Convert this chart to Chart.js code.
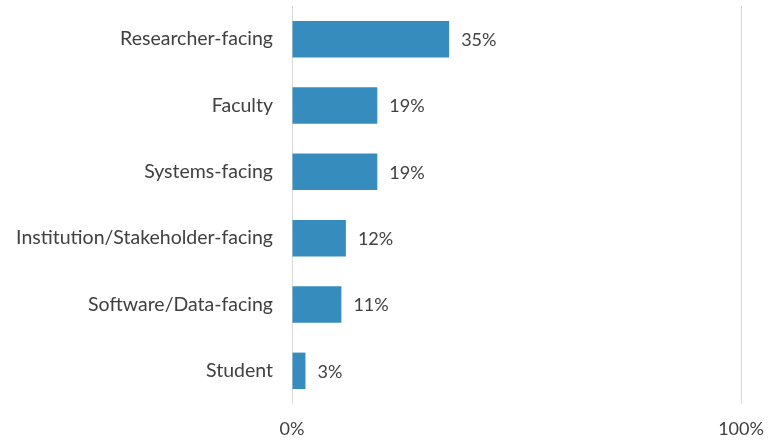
<!DOCTYPE html>
<html>
<head>
<meta charset="utf-8">
<script src="https://cdn.jsdelivr.net/npm/chart.js@4/dist/chart.umd.min.js"></script>
<style>
  html, body { margin: 0; padding: 0; background: #fff; }
  #wrap { width: 769px; height: 441px; }
</style>
</head>
<body>
<div id="wrap"><canvas id="myChart" width="769" height="441"></canvas></div>
<script>
const categories = ['Researcher-facing', 'Faculty', 'Systems-facing', 'Institution/Stakeholder-facing', 'Software/Data-facing', 'Student'];
const shares = [35, 19, 19, 12, 11, 3];
const xTicks = [0, 100];

const textColor = '#404040';
const fontFamily = 'Lato, "Open Sans", sans-serif';

// draws the "35%" style labels at the end of each bar
const valueLabels = {
    id: 'valueLabels',
    afterDatasetsDraw(chart) {
        const ctx = chart.ctx;
        const meta = chart.getDatasetMeta(0);
        ctx.save();
        ctx.font = '18px ' + fontFamily;
        ctx.fillStyle = textColor;
        ctx.textAlign = 'left';
        ctx.textBaseline = 'middle';
        meta.data.forEach((bar, i) => {
            ctx.fillText(shares[i] + '%', bar.x + 12, bar.y + 1);
        });
        ctx.restore();
    }
};

const ctx = document.getElementById('myChart').getContext('2d');
const myChart = new Chart(ctx, {
    type: 'bar',
    data: {
        labels: categories,
        datasets: [{
            data: shares,
            backgroundColor: '#368dbd',
            borderWidth: 0,
            categoryPercentage: 1,
            barPercentage: 0.55
        }]
    },
    options: {
        indexAxis: 'y',
        responsive: false,
        animation: false,
        layout: { padding: { top: 6, right: 28, bottom: 0, left: 0 } },
        plugins: {
            legend: { display: false },
            tooltip: { enabled: false }
        },
        scales: {
            x: {
                min: 0,
                max: 100,
                afterBuildTicks(scale) {
                    scale.ticks = xTicks.map(v => ({ value: v }));
                },
                afterFit(scale) {
                    scale.height = 37;
                    scale.paddingLeft = 0;
                    scale.paddingRight = 0;
                },
                grid: { color: '#d9d9d9', lineWidth: 1, drawTicks: false },
                border: { display: false },
                ticks: {
                    padding: 14,
                    color: textColor,
                    font: { family: fontFamily, size: 18 },
                    callback: v => v + '%'
                }
            },
            y: {
                afterFit(scale) {
                    scale.width = 292;
                    scale.paddingTop = 0;
                    scale.paddingBottom = 0;
                },
                grid: { display: false },
                border: { display: false },
                ticks: {
                    padding: 11,
                    color: textColor,
                    font: { family: fontFamily, size: 19.5 }
                }
            }
        }
    },
    plugins: [valueLabels]
});
</script>
</body>
</html>
